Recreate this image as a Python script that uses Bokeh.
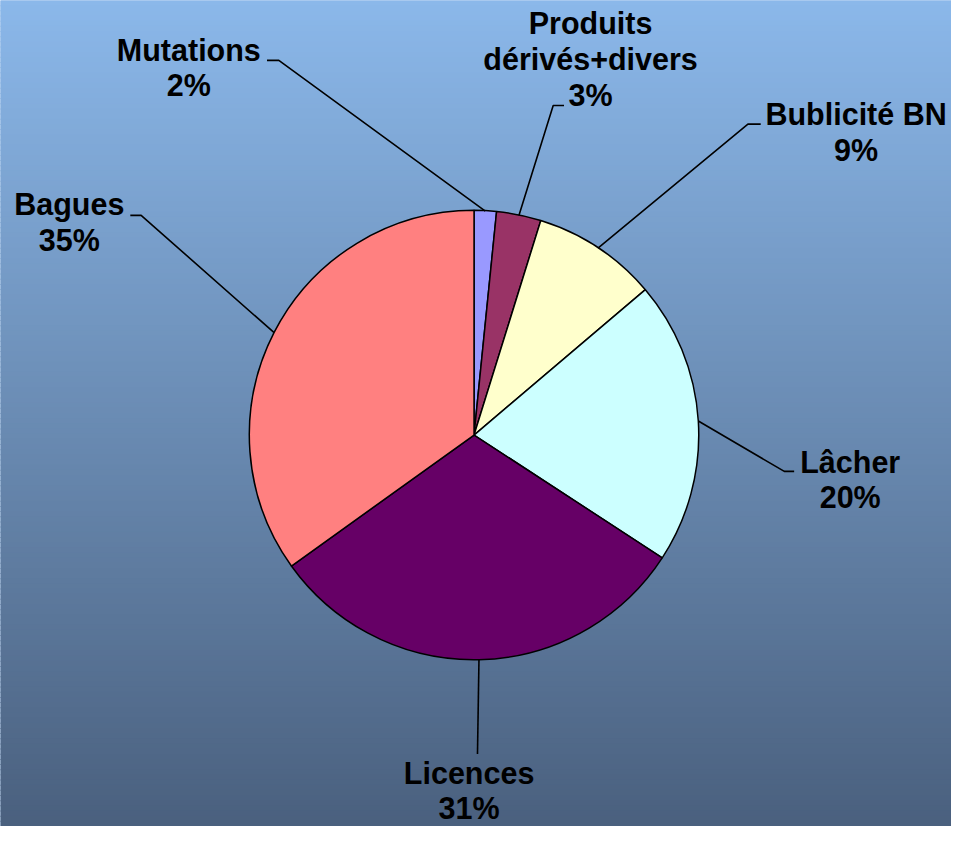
import numpy as np
from bokeh.plotting import figure
from bokeh.models import Range1d
from bokeh.core.properties import value
from bokeh.embed import file_html
from bokeh.resources import INLINE

# ---- data ----
categories = ["Mutations", "Produits\ndérivés+divers", "Bublicité BN", "Lâcher", "Licences", "Bagues"]
shares = [1.6, 3.2, 9.0, 20.4, 30.9, 34.9]
colors = ["#9999FF", "#993366", "#FFFFCC", "#CCFFFF", "#660066", "#FF8080"]

# ---- layout (reference pixel space, y downward) ----
W, H = 967, 842
CX, CY, R = 481.5, 443.0, 228.5
label_pos = [(191.5, 50), (600, 23), (870, 115.5), (864, 470), (476.5, 787), (70, 207.5)]
elbows = [(283, 61), (562, 107), (760, 126), (797, 480), (485, 768), (143, 219)]
ends = [(271, 61), (573, 107), (773, 126), (807, 480), (485, 768), (132, 219)]
LINE_H = 36.5
FONT = value("Liberation Sans")

def Y(y):
    return H - y

p = figure(width=951, height=826, output_backend="svg", toolbar_location=None,
           x_range=Range1d(0, W), y_range=Range1d(0, H), min_border=0)
p.axis.visible = False
p.grid.visible = False
p.outline_line_color = None
p.background_fill_color = "#8AB8EA"
p.border_fill_color = "#8AB8EA"

# background gradient
n = 160
top = np.array([139, 184, 234])
bot = np.array([74, 96, 126])
edges = np.linspace(0, H, n + 1)
cols = []
for i in range(n):
    t = (i + 0.5) / n
    c = top + (bot - top) * t
    cols.append("#%02x%02x%02x" % tuple(int(round(v)) for v in c))
p.quad(left=-5, right=W + 5, top=[Y(e) + 0.5 for e in edges[:-1]], bottom=[Y(e) - 0.5 for e in edges[1:]],
       fill_color=cols, line_color=None)

# pie
total = float(sum(shares))
fr = np.array(shares) / total
cum = np.concatenate([[0], np.cumsum(fr)])
starts = np.pi / 2 - 2 * np.pi * cum[:-1]
stops = np.pi / 2 - 2 * np.pi * cum[1:]
p.wedge(x=CX, y=Y(CY), radius=R, start_angle=starts, end_angle=stops, direction="clock",
        fill_color=colors, line_color="black", line_width=1.5)

# leader lines
mids = (cum[:-1] + cum[1:]) / 2 * 2 * np.pi  # clockwise from top
xs, ys = [], []
for m, e, f in zip(mids, elbows, ends):
    sx = CX + R * np.sin(m)
    sy = CY - R * np.cos(m)
    xs.append([sx, e[0], f[0]])
    ys.append([Y(sy), Y(e[1]), Y(f[1])])
p.multi_line(xs=xs, ys=ys, line_color="black", line_width=1.6)

# labels
tx, ty, tt = [], [], []
for cat, s, (lx, ly) in zip(categories, shares, label_pos):
    lines = cat.split("\n") + ["%d%%" % round(s / total * 100)]
    for k, ln in enumerate(lines):
        tx.append(lx)
        ty.append(Y(ly + k * LINE_H))
        tt.append(ln)
p.text(x=tx, y=ty, text=tt, text_align="center", text_baseline="middle",
       text_font=FONT, text_font_style="bold", text_font_size="30.5px", text_color="black")

open("out.html", "w").write(file_html(p, INLINE))
